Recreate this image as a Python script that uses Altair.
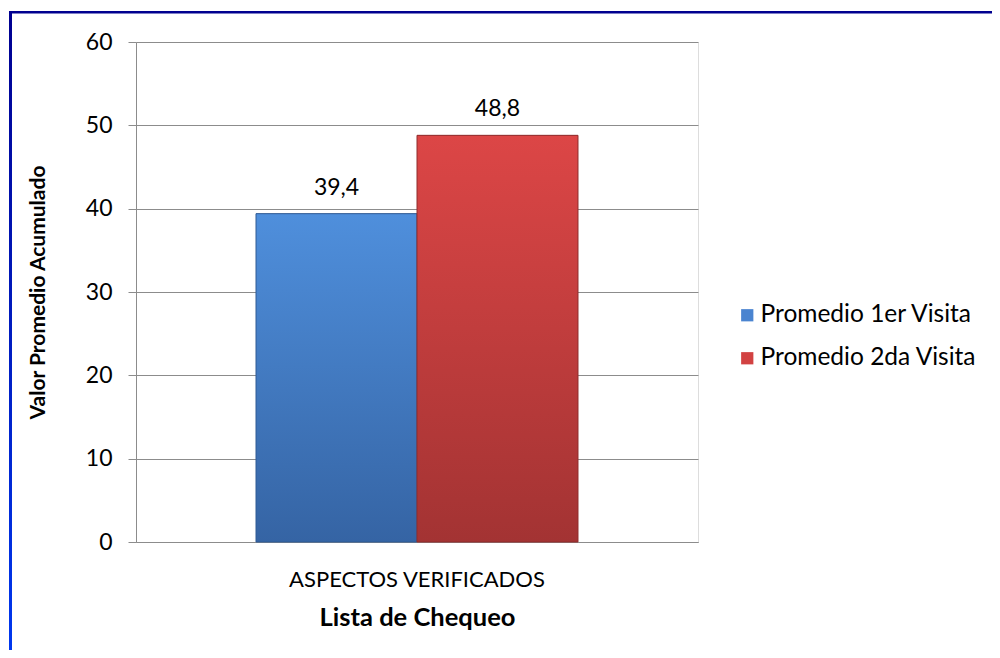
import altair as alt
import pandas as pd

categories = ["ASPECTOS VERIFICADOS"]
series = ["Promedio 1er Visita", "Promedio 2da Visita"]
values = [39.4, 48.8]
value_labels = ["39,4", "48,8"]
flat_colors = ["#4a84d0", "#d24242"]

df = pd.DataFrame({
    "cat": [categories[0]] * len(series),
    "series": series,
    "value": values,
    "label": value_labels,
})

FONT = "Lato"
GRID = "#8c8c8c"

x_enc = alt.X("cat:N", title="Lista de Chequeo",
              scale=alt.Scale(paddingInner=0, paddingOuter=0.3727),
              axis=alt.Axis(labelAngle=0, ticks=False, domain=True, domainColor=GRID,
                            labelFontSize=22, labelFont=FONT, labelColor="#000000",
                            labelLimit=0, labelPadding=27, titleFontSize=25.5, titleFont=FONT,
                            titleFontWeight="bold", titleColor="#000000", titlePadding=15))
xo_enc = alt.XOffset("series:N", sort=series, scale=alt.Scale(paddingInner=0, paddingOuter=0))
y_enc = alt.Y("value:Q", title="Valor Promedio Acumulado",
              scale=alt.Scale(domain=[0, 60], nice=False),
              axis=alt.Axis(values=[0, 10, 20, 30, 40, 50, 60], grid=True, gridColor=GRID,
                            domainColor=GRID, tickColor=GRID, tickSize=8, labelPadding=16,
                            labelFontSize=23, labelFont=FONT, labelColor="#000000",
                            titleFontSize=21, titleFont=FONT, titleFontWeight="bold",
                            titleColor="#000000", titleAngle=270, titleX=-98, titleY=250,
                            titleAlign="center", titleBaseline="middle"))

base = alt.Chart(df)

legend_bars = base.mark_bar().encode(
    x=x_enc, xOffset=xo_enc, y=y_enc,
    color=alt.Color("series:N", sort=series,
                    scale=alt.Scale(domain=series, range=flat_colors),
                    legend=alt.Legend(title=None, orient="none", legendX=599, legendY=261,
                                      symbolType="square", symbolSize=150,
                                      symbolStrokeWidth=0, labelFontSize=24.5, labelFont=FONT,
                                      labelColor="#000000", labelOffset=1, labelLimit=0,
                                      rowPadding=18)),
)

def grad(top, bottom):
    return alt.LinearGradient(gradient="linear", x1=0, x2=0, y1=0, y2=1,
                              stops=[alt.GradientStop(color=top, offset=0),
                                     alt.GradientStop(color=bottom, offset=1)])

blue_bar = base.transform_filter(alt.datum.series == series[0]).mark_bar(
    color=grad("#4f8fdc", "#3564a4"), stroke="#2f5a94", strokeWidth=1).encode(
    x=x_enc, xOffset=xo_enc, y=y_enc)
red_bar = base.transform_filter(alt.datum.series == series[1]).mark_bar(
    color=grad("#dc4646", "#a33333"), stroke="#8f2d2d", strokeWidth=1).encode(
    x=x_enc, xOffset=xo_enc, y=y_enc)

texts = base.mark_text(font=FONT, fontSize=23, color="#000000", baseline="alphabetic",
                       dy=-19).encode(x=x_enc, xOffset=xo_enc, y=y_enc, text="label:N")

left_border = alt.Chart(pd.DataFrame({"a": [0]})).mark_rect(
    color=grad("#000090", "#0038f0")).encode(
    x=alt.value(-127), x2=alt.value(-124), y=alt.value(-31), y2=alt.value(616))
top_border = alt.Chart(pd.DataFrame({"a": [0]})).mark_rect(color="#00008f").encode(
    x=alt.value(-127), x2=alt.value(864), y=alt.value(-31), y2=alt.value(-28.5))

chart = alt.layer(legend_bars, blue_bar, red_bar, texts, left_border, top_border).properties(
    width=562, height=500,
    autosize=alt.AutoSizeParams(type="none"),
    padding={"left": 128, "top": 34, "right": 294, "bottom": 108},
).configure_view(stroke=None).configure(background="#ffffff")

chart.save("out.html", embed_options={"renderer": "svg", "actions": False})
